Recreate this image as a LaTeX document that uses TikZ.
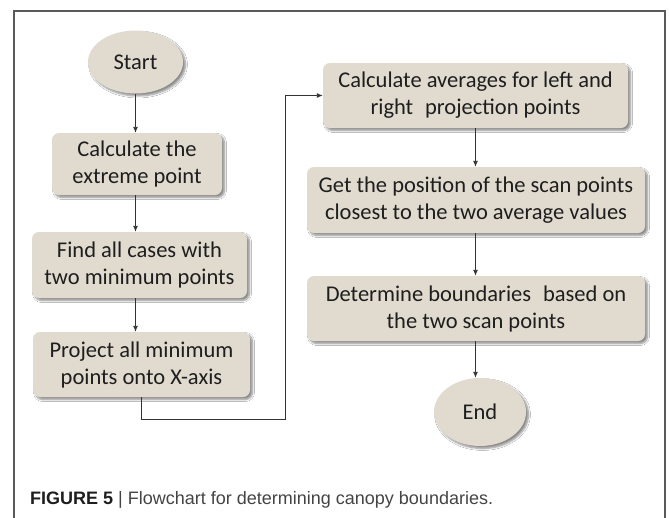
\documentclass[tikz,border=0pt]{standalone}
\usepackage{fontspec}
\setmainfont{Carlito}
\newfontfamily\capfont{Liberation Sans}
\usetikzlibrary{arrows.meta,shapes.geometric,shadows.blur}
\definecolor{boxfill}{HTML}{E1DBCF}
\definecolor{txt}{HTML}{1E1E1E}
\definecolor{linec}{HTML}{333333}
\definecolor{framec}{HTML}{5A5A5A}
\definecolor{capgray}{HTML}{444444}
\tikzset{
  shad/.style={blur shadow={shadow xshift=2.5pt,shadow yshift=-2.5pt,shadow blur steps=6,shadow opacity=45}},
  stepbox/.style={rectangle,rounded corners=7pt,fill=boxfill,shad,align=center,text=txt,
     font=\fontsize{22.5}{27}\selectfont,inner sep=0pt},
  termin/.style={ellipse,fill=boxfill,shad,text=txt,font=\fontsize{22.5}{27}\selectfont,inner sep=0pt},
  arr/.style={draw=linec,line width=0.9pt,-{Latex[length=6pt,width=5pt]}},
}
\begin{document}
\begin{tikzpicture}[x=1pt,y=-1pt]
\useasboundingbox (0,0) rectangle (669,517);
\fill[white] (0,0) rectangle (669,517);
\draw[framec,line width=1.4pt] (14,530) -- (14,11) -- (665,11) -- (665,530);
\node[termin,minimum width=95pt,minimum height=63pt] (start) at (135.5,62) {Start};
\node[stepbox,minimum width=170pt,minimum height=62pt] (b1) at (137,164) {Calculate the\\extreme point};
\node[stepbox,minimum width=215pt,minimum height=66pt] (b2) at (139.5,265) {Find all cases with\\two minimum points};
\node[stepbox,minimum width=217pt,minimum height=65pt] (b3) at (141.5,364.5) {Project all minimum\\points onto X-axis};
\node[stepbox,minimum width=305pt,minimum height=65pt] (b4) at (475.5,95.5) {Calculate averages for left and\\right\hspace{0.3em} projection points};
\node[stepbox,minimum width=338pt,minimum height=66pt] (b5) at (476,200) {Get the position of the scan points\\closest to the two average values};
\node[stepbox,minimum width=338pt,minimum height=65pt] (b6) at (476,308.5) {Determine boundaries\hspace{0.3em} based on\\the two scan points};
\node[termin,minimum width=92pt,minimum height=68pt] (end) at (480,412) {End};
\coordinate (j1) at (285,419);
\draw[arr] (start.south) -- (start.south |- b1.north);
\draw[arr] (b1.south -| start.south) -- (start.south |- b2.north);
\draw[arr] (b2.south -| start.south) -- (start.south |- b3.north);
\draw[arr] (b3.south) |- (j1) |- (b4.west);
\draw[arr] (b4.south) -- (b4.south |- b5.north);
\draw[arr] (b5.south -| b4.south) -- (b4.south |- b6.north);
\draw[arr] (b6.south -| b4.south) -- (b4.south |- end.north);
\node[anchor=base west,inner sep=0pt,font=\capfont\fontsize{18}{22}\selectfont] (cap) at (30,504)
  {\textcolor{txt}{\bfseries FIGURE 5} \textcolor{capgray}{| Flowchart for determining canopy boundaries.}};
\end{tikzpicture}
\end{document}
